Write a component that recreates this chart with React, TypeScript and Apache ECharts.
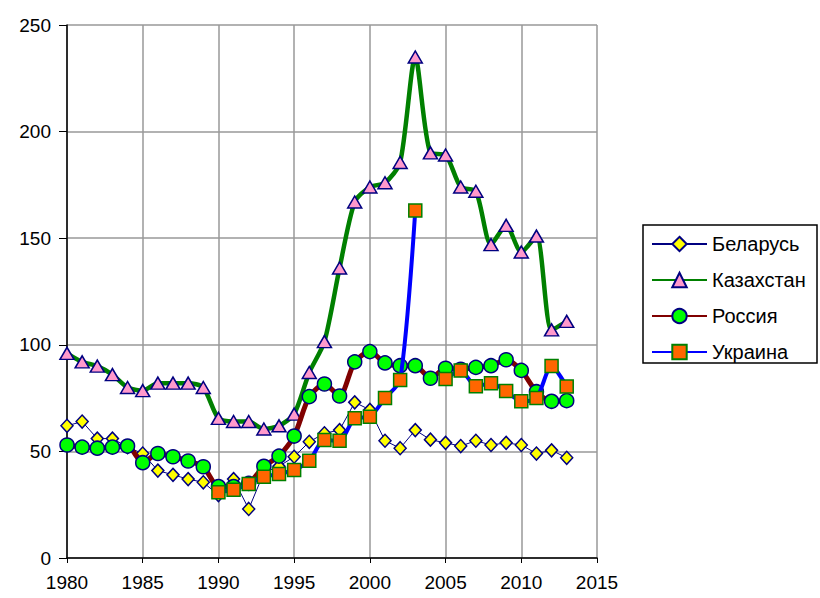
import React, { useEffect, useRef } from "react";
import * as echarts from "echarts";

const years: number[] = [
  1980, 1981, 1982, 1983, 1984, 1985, 1986, 1987, 1988, 1989,
  1990, 1991, 1992, 1993, 1994, 1995, 1996, 1997, 1998, 1999,
  2000, 2001, 2002, 2003, 2004, 2005, 2006, 2007, 2008, 2009,
  2010, 2011, 2012, 2013,
];

const belarus: (number | null)[] = [
  62, 64, 56, 56, 52, 49, 41, 39, 37, 35.5,
  29.5, 37, 23, 40, 43, 47.5, 54.5, 58.5, 60, 73,
  69.5, 55, 51.5, 60, 55.5, 54, 52.5, 55, 53, 54,
  53, 49, 50.5, 47,
];

const kazakhstan: (number | null)[] = [
  96, 92, 90, 86, 80, 78.5, 82, 82, 82, 80,
  65.5, 64, 64, 60.5, 62, 67.5, 87, 101.5, 136, 167,
  174, 176, 185.5, 235, 190, 189, 174, 172, 147, 156,
  143.5, 151, 107, 111,
];

const russia: (number | null)[] = [
  53, 52, 51.5, 52, 52.5, 44.7, 49, 47.5, 45.5, 42.8,
  33.5, 33.5, 35, 43, 47.8, 57.2, 75.7, 81.6, 76, 92,
  96.8, 91.5, 90.2, 90.2, 84.3, 89, 88.5, 89.4, 90.2, 93,
  88, 78, 73.5, 73.8,
];

const ukraine: (number | null)[] = [
  null, null, null, null, null, null, null, null, null, null,
  30.8, 32, 34.7, 38.1, 39.4, 41.3, 45.6, 55.3, 55, 65.5,
  66.3, 75, 83.5, 163, null, 84, 88, 80.5, 82, 78.3,
  73.5, 75, 90, 80.4,
];

const seriesNames = ["Беларусь", "Казахстан", "Россия", "Украина"];

const FONT = "'Liberation Sans', Arial, sans-serif";

function pairs(vals: (number | null)[]) {
  return years.map((y, i) => [y, vals[i]]);
}

export default function App() {
  const ref = useRef<HTMLDivElement>(null);
  useEffect(() => {
    if (!ref.current) return;
    const chart = echarts.init(ref.current, null, { renderer: "svg" });
    chart.setOption({
      animation: false,
      backgroundColor: "#fff",
      grid: {
        left: 67,
        right: 223,
        top: 25,
        bottom: 40,
        containLabel: false,
        outerBoundsMode: "none",
      },
      xAxis: {
        type: "value",
        min: 1980,
        max: 2015,
        interval: 5,
        axisLine: { onZero: false, lineStyle: { color: "#000", width: 1.5 } },
        axisTick: { show: true, length: 5, lineStyle: { color: "#000", width: 1 } },
        axisLabel: {
          margin: 15,
          fontSize: 19,
          fontFamily: FONT,
          color: "#000",
          formatter: (v: number) => String(v),
        },
        splitLine: { show: true, lineStyle: { color: "#999", width: 1.5 } },
      },
      yAxis: {
        type: "value",
        min: 0,
        max: 250,
        interval: 50,
        axisLine: { show: true, lineStyle: { color: "#000", width: 1.5 } },
        axisTick: { show: true, length: 8, lineStyle: { color: "#000", width: 1 } },
        axisLabel: {
          margin: 16,
          fontSize: 19,
          fontFamily: FONT,
          color: "#000",
        },
        splitLine: { show: true, lineStyle: { color: "#999", width: 1.5 } },
      },
      legend: {
        orient: "vertical",
        left: 651,
        top: 234,
        padding: 0,
        itemWidth: 55,
        itemHeight: 18,
        itemGap: 16,
        data: seriesNames,
        textStyle: { fontSize: 20, fontFamily: FONT, color: "#000" },
      },
      graphic: [
        {
          type: "rect",
          shape: { x: 643, y: 225, width: 174, height: 138 },
          style: { fill: "none", stroke: "#000", lineWidth: 1.5 },
          z: 100,
        },
      ],
      series: [
        {
          name: seriesNames[0],
          type: "line",
          data: pairs(belarus),
          symbol: "diamond",
          symbolSize: [12, 13],
          lineStyle: { color: "#000080", width: 1 },
          itemStyle: { color: "#FFFF00", borderColor: "#000080", borderWidth: 1.5 },
          z: 2,
        },
        {
          name: seriesNames[1],
          type: "line",
          data: pairs(kazakhstan),
          smooth: 0.25,
          symbol: "triangle",
          symbolSize: [14, 12],
          lineStyle: { color: "#008000", width: 4.5 },
          itemStyle: { color: "#FF99CC", borderColor: "#000080", borderWidth: 1.5 },
          z: 3,
        },
        {
          name: seriesNames[2],
          type: "line",
          data: pairs(russia),
          smooth: 0.25,
          symbol: "circle",
          symbolSize: 14,
          lineStyle: { color: "#800000", width: 5 },
          itemStyle: { color: "#00FF00", borderColor: "#000080", borderWidth: 1.5 },
          z: 4,
        },
        {
          name: seriesNames[3],
          type: "line",
          data: pairs(ukraine),
          smooth: 0.25,
          connectNulls: false,
          symbol: "rect",
          symbolSize: 13,
          lineStyle: { color: "#0000FF", width: 4 },
          itemStyle: { color: "#FF6600", borderColor: "#008000", borderWidth: 1.5 },
          z: 5,
        },
      ],
    });
    return () => chart.dispose();
  }, []);
  return (
    <div
      ref={ref}
      style={{ position: "fixed", left: 0, top: 0, width: 820, height: 598 }}
    />
  );
}
